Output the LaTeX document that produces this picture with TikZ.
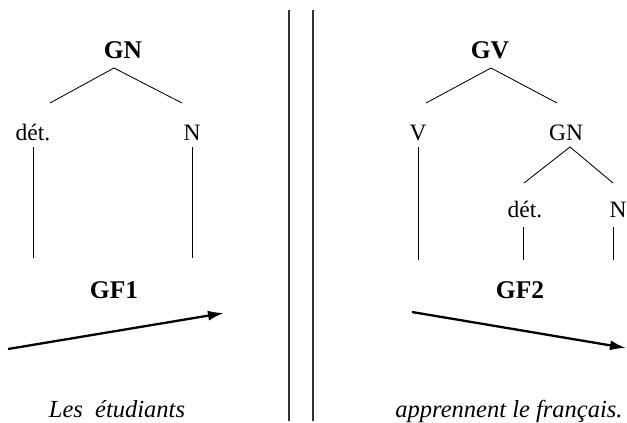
\documentclass[tikz,border=0pt]{standalone}
\usepackage{fontspec}
\setmainfont{Liberation Serif}
\usetikzlibrary{arrows.meta}
\begin{document}
\begin{tikzpicture}[x=1pt,y=-1pt,
  lbl/.style={anchor=base,inner sep=0pt,font=\fontsize{23.5}{27}\selectfont},
  blbl/.style={lbl,font=\fontsize{25.5}{29}\selectfont\bfseries},
  ilbl/.style={lbl,font=\fontsize{24.5}{28}\selectfont\itshape},
  branch/.style={line width=0.85pt},
  sep/.style={line width=1.4pt,draw=black!80},
  flow/.style={line width=2.3pt,-{Latex[length=16pt,width=10pt]}}]
\useasboundingbox (0,0) rectangle (627,423);
% left tree
\node[blbl] (gn1) at (123,58) {GN};
\node[lbl] (det1) at (33,140) {dét.};
\node[lbl] (n1) at (192,140) {N};
\node[blbl] (gf1) at (114,298) {GF1};
\node[ilbl] (les) at (117,417) {Les\ \ étudiants};
\coordinate (gn1b) at (114,68);
\coordinate (det1t) at (50,103);
\coordinate (n1t) at (182,103);
\draw[branch] (det1t) -- (gn1b) -- (n1t);
\coordinate (det1a) at (33,147); \coordinate (det1z) at (33,258);
\coordinate (n1a) at (192,147); \coordinate (n1z) at (192,258);
\draw[branch] (det1a) -- (det1z);
\draw[branch] (n1a) -- (n1z);
\coordinate (a1s) at (8,349); \coordinate (a1e) at (224,313);
\draw[flow] (a1s) -- (a1e);
% separator
\coordinate (s1a) at (289,10); \coordinate (s1z) at (289,421);
\coordinate (s2a) at (313,10); \coordinate (s2z) at (313,421);
\draw[sep] (s1a) -- (s1z);
\draw[sep] (s2a) -- (s2z);
% right tree
\node[blbl] (gv) at (490,58) {GV};
\node[lbl] (v) at (418,140) {V};
\node[lbl] (gn2) at (566,140) {GN};
\node[lbl] (det2) at (525,217) {dét.};
\node[lbl] (n2) at (618,217) {N};
\node[blbl] (gf2) at (520,298) {GF2};
\node[ilbl] (app) at (509,417) {apprennent le français.};
\coordinate (gvb) at (491,68);
\coordinate (vt) at (426,103);
\coordinate (gn2t) at (557,103);
\draw[branch] (vt) -- (gvb) -- (gn2t);
\coordinate (gn2b) at (570,147);
\coordinate (det2t) at (524,183);
\coordinate (n2t) at (613,183);
\draw[branch] (det2t) -- (gn2b) -- (n2t);
\coordinate (va) at (418,147); \coordinate (vz) at (418,260);
\draw[branch] (va) -- (vz);
\coordinate (det2a) at (523,227); \coordinate (det2z) at (523,260);
\coordinate (n2a) at (613,227); \coordinate (n2z) at (613,260);
\draw[branch] (det2a) -- (det2z);
\draw[branch] (n2a) -- (n2z);
\coordinate (a2s) at (412,312); \coordinate (a2e) at (626,348);
\draw[flow] (a2s) -- (a2e);
\end{tikzpicture}
\end{document}
